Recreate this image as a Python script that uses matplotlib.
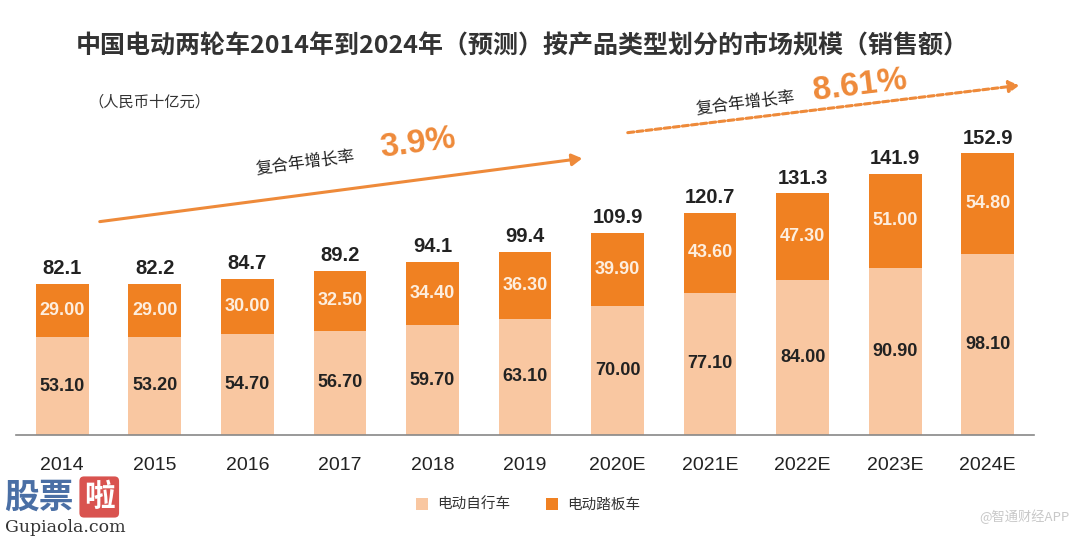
import numpy as np
import matplotlib.pyplot as plt

plt.rcParams['font.family'] = ['Noto Sans CJK SC', 'DejaVu Sans']

years = ['2014', '2015', '2016', '2017', '2018', '2019', '2020E', '2021E', '2022E', '2023E', '2024E']
bicycle = [53.10, 53.20, 54.70, 56.70, 59.70, 63.10, 70.00, 77.10, 84.00, 90.90, 98.10]
scooter = [29.00, 29.00, 30.00, 32.50, 34.40, 36.30, 39.90, 43.60, 47.30, 51.00, 54.80]
totals = [82.1, 82.2, 84.7, 89.2, 94.1, 99.4, 109.9, 120.7, 131.3, 141.9, 152.9]

c_light = '#F9C7A1'
c_dark = '#F08122'

W, H = 1076, 538
fig = plt.figure(figsize=(W / 100, H / 100), dpi=100)

def fx(x):
    return x / W

def fy(y):
    return 1 - y / H

ax = fig.add_axes([fx(16), fy(435), fx(1018), 304 / H])
x = np.arange(len(years))
ax.bar(x, bicycle, width=0.57, color=c_light, label='电动自行车')
ax.bar(x, scooter, bottom=bicycle, width=0.57, color=c_dark, label='电动踏板车')

for i in range(len(years)):
    ax.text(x[i], bicycle[i] / 2, f'{bicycle[i]:.2f}', ha='center', va='center',
            fontsize=13, fontweight='bold', color='#222222', family='Liberation Sans')
    ax.text(x[i], bicycle[i] + scooter[i] / 2, f'{scooter[i]:.2f}', ha='center', va='center',
            fontsize=13, fontweight='bold', color='#FDEEDF', family='Liberation Sans')
    ax.text(x[i], totals[i] + 3, f'{totals[i]:.1f}', ha='center', va='bottom',
            fontsize=14.5, fontweight='bold', color='#222222', family='Liberation Sans')

ax.set_xlim(-0.5, 10.5)
ax.set_ylim(0, 165)
ax.set_xticks(x)
ax.set_xticklabels(years, fontsize=14, family='Liberation Sans', color='#222222')
ax.tick_params(axis='x', length=0, pad=16)
ax.set_yticks([])
for s in ['top', 'right', 'left']:
    ax.spines[s].set_visible(False)
ax.spines['bottom'].set_color('#888888')
ax.spines['bottom'].set_linewidth(1.2)

# title and unit
fig.text(fx(522), fy(46), '中国电动两轮车2014年到2024年（预测）按产品类型划分的市场规模（销售额）',
         ha='center', va='center', fontsize=18, fontweight='bold', color='#333333')
fig.text(fx(88), fy(102), '（人民币十亿元）', ha='left', va='center', fontsize=11, color='#333333')

# CAGR arrows
fig.add_artist(plt.matplotlib.patches.FancyArrowPatch(
    (fx(97), fy(222)), (fx(585), fy(158)), transform=fig.transFigure,
    arrowstyle='-|>,head_length=6,head_width=3.5', color='#EE8A3A', lw=2.2))
fig.add_artist(plt.matplotlib.patches.FancyArrowPatch(
    (fx(625), fy(133)), (fx(1022), fy(85)), transform=fig.transFigure,
    arrowstyle='-|>,head_length=6,head_width=3.5', color='#EE8A3A', lw=2.2,
    linestyle=(0, (2, 1))))
fig.text(fx(305), fy(162), '复合年增长率', ha='center', va='center', fontsize=12,
         rotation=7.5, color='#222222')
fig.text(fx(418), fy(144), '3.9%', ha='center', va='center', fontsize=24,
         fontweight='bold', rotation=7.5, color='#EE8A3A', family='Liberation Sans')
fig.text(fx(745), fy(103), '复合年增长率', ha='center', va='center', fontsize=12,
         rotation=7, color='#222222')
fig.text(fx(860), fy(86), '8.61%', ha='center', va='center', fontsize=24,
         fontweight='bold', rotation=7, color='#EE8A3A', family='Liberation Sans')

# legend
leg = fig.legend(loc='center', bbox_to_anchor=(fx(528), fy(505)), ncol=2, frameon=False,
                 fontsize=10.5, handlelength=0.8, handleheight=0.8, columnspacing=2.5,
                 handletextpad=0.6)
for t in leg.get_texts():
    t.set_color('#333333')

# watermarks
fig.text(fx(4), fy(497), '股票', ha='left', va='center', fontsize=25, fontweight='bold', color='#4A6FA5')
fig.text(fx(84), fy(497), '啦', ha='left', va='center', fontsize=22, fontweight='bold', color='white',
         bbox=dict(boxstyle='round,pad=0.15', fc='#D9534F', ec='none'))
fig.text(fx(5), fy(527), 'Gupiaola.com', ha='left', va='center', fontsize=12.5,
         family='DejaVu Serif', color='#333333')
fig.text(fx(1070), fy(517), '@智通财经APP', ha='right', va='center', fontsize=9.5, color='#C8C8C8')

fig.savefig('out.png', dpi=100)
